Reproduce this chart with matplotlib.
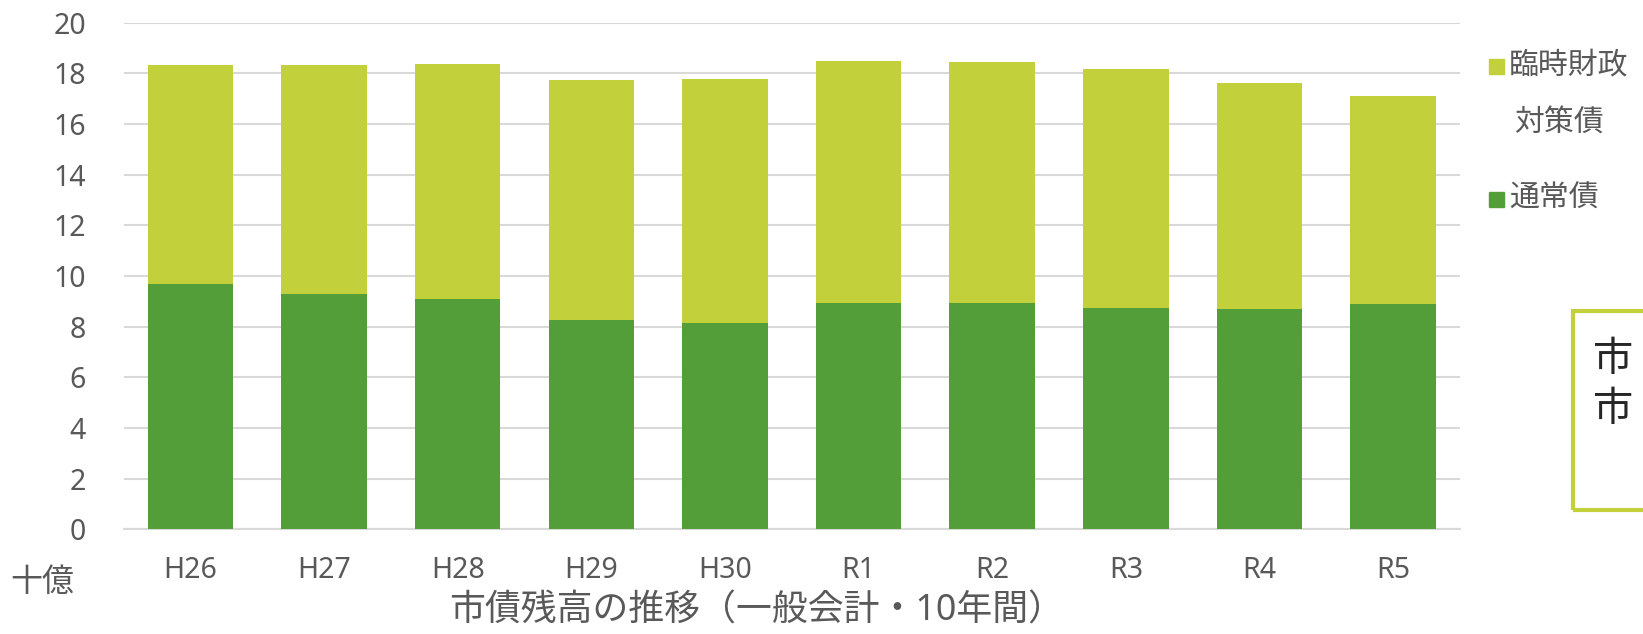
import matplotlib.pyplot as plt
from matplotlib.patches import Rectangle

plt.rcParams['font.family'] = ['Noto Sans', 'Noto Sans CJK JP', 'DejaVu Sans']

# データ (十億円)
years = ['H26', 'H27', 'H28', 'H29', 'H30', 'R1', 'R2', 'R3', 'R4', 'R5']
normal_bonds = [9.70, 9.30, 9.11, 8.28, 8.16, 8.92, 8.95, 8.75, 8.69, 8.89]
totals = [18.34, 18.33, 18.35, 17.73, 17.76, 18.49, 18.45, 18.19, 17.60, 17.12]
special_bonds = [t - n for t, n in zip(totals, normal_bonds)]

yticks = [0, 2, 4, 6, 8, 10, 12, 14, 16, 18, 20]

c_light = '#C2D03B'
c_dark = '#539E39'
c_text = '#595959'
c_grid = '#D9D9D9'

W, H = 1643, 634
fig = plt.figure(figsize=(W / 100, H / 100), dpi=100)
ax = fig.add_axes([0.0752, 0.1651, 0.8134, 0.7991])

x = list(range(len(years)))
ax.bar(x, normal_bonds, width=0.64, color=c_dark, zorder=3)
ax.bar(x, special_bonds, width=0.64, bottom=normal_bonds, color=c_light, zorder=3)

ax.set_xlim(-0.5, len(years) - 0.5)
ax.set_ylim(0, 20)
ax.set_yticks(yticks)
ax.set_xticks(x)
ax.set_xticklabels(years)
ax.tick_params(axis='y', length=0, pad=27, labelsize=20.5, labelcolor=c_text)
ax.tick_params(axis='x', length=0, pad=19, labelsize=20.5, labelcolor=c_text)
ax.yaxis.grid(True, color=c_grid, linewidth=1.5, zorder=0)
for s in ['top', 'right', 'left']:
    ax.spines[s].set_visible(False)
ax.spines['bottom'].set_color(c_grid)
ax.spines['bottom'].set_linewidth(1.5)


def fx(px):
    return px / W


def fy(py):
    return 1 - py / H


# 凡例 (手動)
legend_items = [
    (c_light, ['臨時財政', '対策債'], 66),
    (c_dark, ['通常債'], 199),
]
sq = 15
for color, lines, yc in legend_items:
    fig.patches.append(Rectangle((fx(1489), fy(yc + sq / 2)), sq / W, sq / H,
                                 transform=fig.transFigure, color=color))
    for i, line in enumerate(lines):
        xoff = 1509 if i == 0 else 1514
        fig.text(fx(xoff), fy(yc + i * 57), line, fontsize=21.5, color=c_text,
                 ha='left', va='center')

# 単位・タイトル
fig.text(fx(10), fy(582), '十億', fontsize=23, color=c_text,
         ha='left', va='center')
fig.text(fx(757), fy(612), '市債残高の推移（一般会計・10年間）',
         fontsize=25.8, color=c_text, ha='center', va='center')

# 右側の枠 (切れている)
fig.patches.append(Rectangle((fx(1573), fy(510)), 0.2, 199 / H,
                             transform=fig.transFigure, fill=False,
                             edgecolor=c_light, linewidth=3))
fig.text(fx(1593), fy(361), '市', fontsize=29, color='#262626',
         ha='left', va='center')
fig.text(fx(1593), fy(411), '市', fontsize=29, color='#262626',
         ha='left', va='center')

fig.savefig('out.png', dpi=100)
